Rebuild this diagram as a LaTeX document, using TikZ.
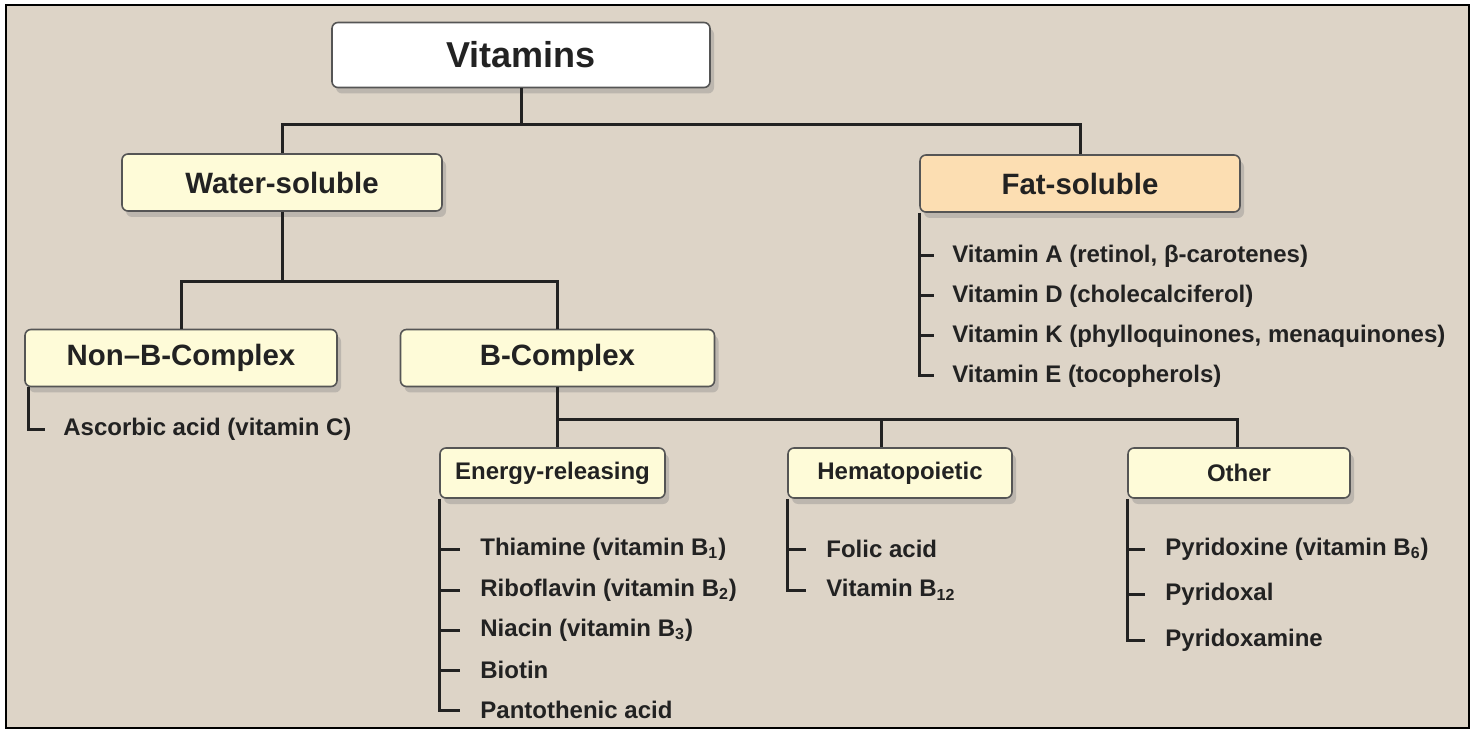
\documentclass[tikz,border=0pt]{standalone}
\usepackage{fontspec}
\setmainfont{Liberation Sans}
\usetikzlibrary{positioning,shadows}
\definecolor{PaperBeige}{RGB}{221,212,199}
\definecolor{BoxCream}{RGB}{254,251,216}
\definecolor{BoxPeach}{RGB}{252,222,178}
\definecolor{EdgeGray}{RGB}{85,85,85}
\definecolor{InkDark}{RGB}{34,34,34}
\tikzset{
  catbox/.style={draw=EdgeGray,line width=0.8pt,rounded corners=3pt,fill=BoxCream,
    text=InkDark,drop shadow={shadow xshift=2pt,shadow yshift=-3pt,opacity=0.35}},
  topbox/.style={catbox,fill=white,minimum width=189pt,minimum height=32.5pt,
    font=\fontsize{18}{20}\selectfont\bfseries},
  midbox/.style={catbox,minimum height=28.5pt,font=\fontsize{14.7}{17}\selectfont\bfseries},
  subbox/.style={catbox,minimum height=25pt,font=\fontsize{12}{14}\selectfont\bfseries},
  leaf/.style={anchor=west,inner sep=0pt,text=InkDark,font=\fontsize{12}{14}\selectfont\bfseries},
  branch/.style={line width=1.5pt,draw=InkDark},
}
\begin{document}
\begin{tikzpicture}[x=0.5pt,y=-0.5pt]
  \useasboundingbox (0,0) rectangle (1475,731);
  \draw[fill=PaperBeige,line width=1pt] (6,5) rectangle (1469,728);

  % category boxes
  \node[topbox] (vit) at (521,55) {Vitamins};
  \node[midbox,minimum width=160pt] (water) at (282,182.5) {Water-soluble};
  \node[midbox,minimum width=160pt,fill=BoxPeach] (fat) at (1080,183.5) {Fat-soluble};
  \node[midbox,minimum width=156pt] (nonb) at (181,358) {Non--B-Complex};
  \node[midbox,minimum width=157pt] (bcx) at (557.5,358) {B-Complex};
  \node[subbox,minimum width=112.5pt] (energy) at (552.5,473) {Energy-releasing};
  \node[subbox,minimum width=112pt] (hema) at (900,473) {Hematopoietic};
  \node[subbox,minimum width=111pt] (other) at (1239,473) {Other};

  % junctions
  \coordinate (tj) at (521,125);
  \coordinate (wj) at (282,282);
  \coordinate (bj) at (557.5,419);

  \draw[branch] (vit.south) -- (tj);
  \draw[branch] (water.north) |- (tj) -| (fat.north);
  \draw[branch] (water.south) -- (wj);
  \draw[branch] (nonb.north) |- (wj) -| (bcx.north);
  \draw[branch] (bcx.south) -- (bcx.south |- energy.north);
  \draw[branch] (bj) -| ([xshift=-1pt]other.north);
  \draw[branch] ([xshift=-9.5pt]hema.north) -- ([xshift=-9.5pt]hema.north |- bj);

  % fat-soluble list
  \node[leaf] (fA) at (952,256) {Vitamin A (retinol, β-carotenes)};
  \node[leaf] (fD) at (952,296) {Vitamin D (cholecalciferol)};
  \node[leaf] (fK) at (952,336) {Vitamin K (phylloquinones, menaquinones)};
  \node[leaf] (fE) at (952,376) {Vitamin E (tocopherols)};
  \draw[branch] (fat.south west) |- ([xshift=-9pt]fE.west);
  \foreach \n in {fA,fD,fK}
    \draw[branch] (fat.south west |- \n.west) -- ([xshift=-9pt]\n.west);

  % non-B list
  \node[leaf] (asc) at (63,429) {Ascorbic acid (vitamin C)};
  \draw[branch] ([xshift=2pt]nonb.south west) |- ([xshift=-9pt]asc.west);

  % energy-releasing list
  \node[leaf] (e1) at (480,549) {Thiamine (vitamin B\textsubscript{1})};
  \node[leaf] (e2) at (480,590) {Riboflavin (vitamin B\textsubscript{2})};
  \node[leaf] (e3) at (480,630) {Niacin (vitamin B\textsubscript{3})};
  \node[leaf] (e4) at (480,670) {Biotin};
  \node[leaf] (e5) at (480,710) {Pantothenic acid};
  \draw[branch] (energy.south west) |- ([xshift=-10pt]e5.west);
  \foreach \n in {e1,e2,e3,e4}
    \draw[branch] (energy.south west |- \n.west) -- ([xshift=-10pt]\n.west);

  % hematopoietic list
  \node[leaf] (h1) at (826,549) {Folic acid};
  \node[leaf] (h2) at (826,590) {Vitamin B\textsubscript{12}};
  \draw[branch] (hema.south west) |- ([xshift=-10pt]h2.west);
  \draw[branch] (hema.south west |- h1.west) -- ([xshift=-10pt]h1.west);

  % other list
  \node[leaf] (o1) at (1165,549) {Pyridoxine (vitamin B\textsubscript{6})};
  \node[leaf] (o2) at (1165,594) {Pyridoxal};
  \node[leaf] (o3) at (1165,640) {Pyridoxamine};
  \draw[branch] (other.south west) |- ([xshift=-10pt]o3.west);
  \foreach \n in {o1,o2}
    \draw[branch] (other.south west |- \n.west) -- ([xshift=-10pt]\n.west);
\end{tikzpicture}
\end{document}
